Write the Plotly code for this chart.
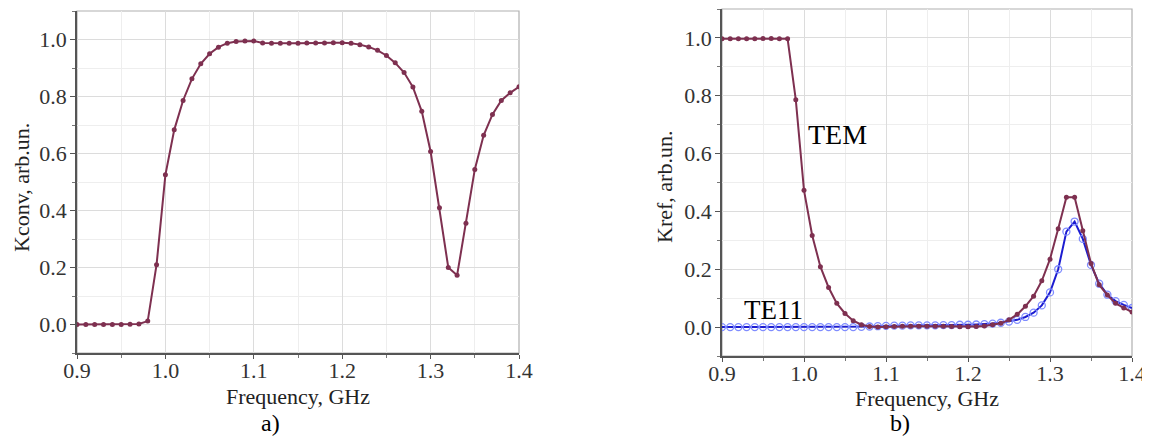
import plotly.graph_objects as go

freq = [round(0.90 + 0.01 * i, 2) for i in range(51)]

kconv = [0.0, 0.0, 0.0, 0.0, 0.0, 0.0, 0.001, 0.002, 0.012, 0.21,
         0.525, 0.683, 0.786, 0.862, 0.915, 0.950, 0.973, 0.987, 0.993, 0.995,
         0.995, 0.988, 0.987, 0.987, 0.987, 0.987, 0.988, 0.988, 0.988, 0.989,
         0.989, 0.987, 0.982, 0.974, 0.962, 0.944, 0.918, 0.884, 0.833, 0.748,
         0.607, 0.41, 0.20, 0.173, 0.355, 0.544, 0.664, 0.737, 0.786, 0.813,
         0.834]

kref_tem = [0.997, 0.997, 0.997, 0.997, 0.997, 0.998, 0.998, 0.997, 0.997, 0.786,
            0.473, 0.317, 0.209, 0.137, 0.082, 0.047, 0.022, 0.008, 0.002, 0.0,
            0.001, 0.002, 0.003, 0.003, 0.003, 0.003, 0.003, 0.003, 0.002, 0.001,
            0.001, 0.002, 0.004, 0.008, 0.013, 0.025, 0.044, 0.072, 0.107, 0.16,
            0.235, 0.34, 0.449, 0.449, 0.333, 0.22, 0.146, 0.111, 0.082, 0.066,
            0.052]

kref_te11 = [0.0, 0.0, 0.0, 0.0, 0.0, 0.0, 0.0, 0.0, 0.0, 0.0,
             0.0, 0.0, 0.0, 0.0, 0.0, 0.0, 0.0, 0.001, 0.002, 0.003,
             0.004, 0.005, 0.005, 0.006, 0.006, 0.006, 0.006, 0.007, 0.007, 0.008,
             0.008, 0.009, 0.01, 0.012, 0.015, 0.019, 0.025, 0.035, 0.05, 0.075,
             0.12, 0.2, 0.33, 0.365, 0.305, 0.215, 0.15, 0.112, 0.09, 0.077,
             0.066]

x_ticks = [0.9, 1.0, 1.1, 1.2, 1.3, 1.4]
x_ticklabels = ["0.9", "1.0", "1.1", "1.2", "1.3", "1.4"]
y_ticks = [0.0, 0.2, 0.4, 0.6, 0.8, 1.0]
y_ticklabels = ["0.0", "0.2", "0.4", "0.6", "0.8", "1.0"]

TEM_COLOR = "#7e3050"
TE_LINE = "#1c1cd0"
TE_MARK = "#7f8cff"
FONT = "Liberation Serif"

# the page body has an 8px margin; size the figure so it fills the window
OFF = 8
W, H = 1150 - OFF, 439 - OFF


def px(x):
    return (x - OFF) / W


def py(y):
    return 1 - (y - OFF) / H


fig = go.Figure()

fig.add_trace(go.Scatter(x=freq, y=kconv, mode="lines+markers",
                         line=dict(color=TEM_COLOR, width=2),
                         marker=dict(color=TEM_COLOR, size=5),
                         xaxis="x", yaxis="y", showlegend=False))
fig.add_trace(go.Scatter(x=freq, y=kref_te11, mode="lines+markers",
                         line=dict(color=TE_LINE, width=2),
                         marker=dict(color=TE_MARK, size=7, symbol="circle-open",
                                     line=dict(width=1.3)),
                         xaxis="x2", yaxis="y2", showlegend=False))
fig.add_trace(go.Scatter(x=freq, y=kref_tem, mode="lines+markers",
                         line=dict(color=TEM_COLOR, width=2),
                         marker=dict(color=TEM_COLOR, size=5),
                         xaxis="x2", yaxis="y2", showlegend=False))


def xaxis_cfg(domain, anchor):
    return dict(domain=domain, anchor=anchor, range=[0.9, 1.4], automargin=False,
                tickvals=x_ticks, ticktext=x_ticklabels,
                ticks="outside", ticklen=4, tickcolor="#555", ticklabelstandoff=-7,
                showline=True, linecolor="#555", linewidth=1.5,
                showgrid=True, gridcolor="#dcdcdc", gridwidth=1,
                minor=dict(dtick=0.05, tick0=0.9, showgrid=True, gridcolor="#eeeeee",
                           ticks="outside", ticklen=3, tickcolor="#777"),
                zeroline=False,
                tickfont=dict(family=FONT, size=22, color="#333"))


def yaxis_cfg(domain, anchor):
    return dict(domain=domain, anchor=anchor, range=[-0.1, 1.1], automargin=False,
                tickvals=y_ticks, ticktext=y_ticklabels,
                ticks="outside", ticklen=5, tickcolor="#555", ticklabelstandoff=-1,
                showline=True, linecolor="#555", linewidth=1.5,
                showgrid=True, gridcolor="#dcdcdc", gridwidth=1,
                minor=dict(dtick=0.1, tick0=-0.1, showgrid=True, gridcolor="#eeeeee",
                           ticks="outside", ticklen=3, tickcolor="#777"),
                zeroline=False,
                tickfont=dict(family=FONT, size=22, color="#333"))


def paper_text(text, x, y, size, angle=0, color="#222"):
    return dict(text=text, x=px(x), y=py(y), xref="paper", yref="paper",
                xanchor="center", yanchor="middle", showarrow=False, textangle=angle,
                font=dict(family=FONT, size=size, color=color))


fig.update_layout(
    width=W, height=H,
    margin=dict(l=0, r=0, t=0, b=0, autoexpand=False),
    paper_bgcolor="white", plot_bgcolor="white",
    xaxis=xaxis_cfg([px(77), px(519)], "y"),
    yaxis=yaxis_cfg([py(353), py(11)], "x"),
    xaxis2=xaxis_cfg([px(722), px(1132)], "y2"),
    yaxis2=yaxis_cfg([py(356), py(9)], "x2"),
    shapes=[
        dict(type="rect", xref="x domain", yref="y domain", x0=0, x1=1, y0=0, y1=1,
             line=dict(color="#b0b0b0", width=1.2), layer="below"),
        dict(type="rect", xref="x2 domain", yref="y2 domain", x0=0, x1=1, y0=0, y1=1,
             line=dict(color="#b0b0b0", width=1.2), layer="below"),
    ],
    annotations=[
        paper_text("Frequency, GHz", 298, 396, 22),
        paper_text("Frequency, GHz", 927, 398, 22),
        paper_text("Kconv, arb.un.", 21, 188, 22, angle=-90),
        paper_text("Kref, arb.un.", 664, 187, 22, angle=-90),
        paper_text("a)", 270, 423, 24, color="black"),
        paper_text("b)", 900, 423, 24, color="black"),
        dict(text="TEM", x=1.003, y=0.665, xref="x2", yref="y2", xanchor="left",
             yanchor="middle", showarrow=False,
             font=dict(family=FONT, size=28, color="black")),
        dict(text="TE11", x=0.924, y=0.06, xref="x2", yref="y2", xanchor="left",
             yanchor="middle", showarrow=False,
             font=dict(family=FONT, size=27, color="black")),
    ],
)

fig.write_html("out.html")
